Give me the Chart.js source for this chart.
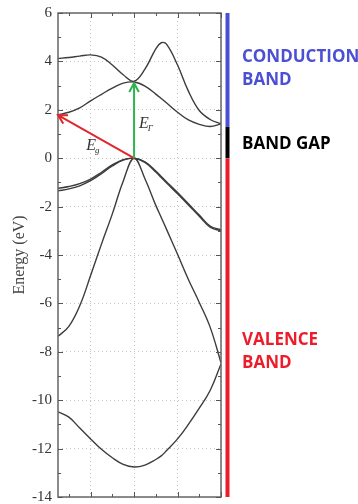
<!DOCTYPE html>
<html lang="en">
<head>
  <meta charset="UTF-8">
  <title>Band structure</title>
  <script src="https://cdn.jsdelivr.net/npm/chart.js"></script>
  <style>
    body { margin: 0; background: #fff; }
    #wrap { width: 358px; height: 504px; }
  </style>
</head>
<body>
  <div id="wrap"><canvas id="bandChart" width="358" height="504"></canvas></div>

  <script>
    // k-path position (Gamma point at 0)
    const kPath = [-3.5, -3, -2.5, -2, -1.5, -1, -0.5, 0, 0.5, 1, 1.25, 1.5, 2, 2.5, 3, 3.5, 4];

    // band energies in eV, one value per kPath point
    const cbUpper = [4.12, 4.16, 4.22, 4.27, 4.18, 3.85, 3.45, 3.18, 3.68, 4.52, 4.77, 4.70, 3.85, 2.77, 1.97, 1.60, 1.42];
    const cbLower = [1.80, 1.90, 2.08, 2.37, 2.64, 2.90, 3.10, 3.15, 2.98, 2.65, 2.47, 2.28, 1.90, 1.58, 1.40, 1.31, 1.42];
    const vbHeavy1 = [-1.25, -1.17, -1.05, -0.86, -0.58, -0.28, -0.06, 0, -0.15, -0.53, -0.76, -0.98, -1.42, -1.88, -2.35, -2.80, -2.96];
    const vbHeavy2 = [-1.35, -1.27, -1.14, -0.93, -0.64, -0.32, -0.08, 0, -0.17, -0.57, -0.80, -1.03, -1.47, -1.93, -2.40, -2.85, -3.00];
    const vbLight = [-7.36, -6.95, -6.10, -4.85, -3.55, -2.30, -0.95, 0, -0.85, -1.95, -2.45, -2.95, -3.97, -5.01, -5.96, -6.98, -8.45];
    const vbBottom = [-10.48, -10.70, -11.15, -11.60, -12.03, -12.38, -12.65, -12.76, -12.68, -12.45, -12.30, -12.08, -11.60, -11.00, -10.33, -9.60, -8.50];
    const bands = [cbUpper, cbLower, vbHeavy1, vbHeavy2, vbLight, vbBottom];

    // transition arrows: [k, E] start and end
    const arrowFrom = [[0, 0], [0, 0]];
    const arrowTo = [[-3.5, 1.78], [0, 3.1]];
    const arrowColors = ['#e3262c', '#2fb34f'];
    const arrowSubs = ['g', 'Γ'];
    const arrowLabelAt = [[-2.2, 0.33], [0.23, 1.24]];

    // energy regions on the right
    const regionNames = [['CONDUCTION', 'BAND'], ['BAND GAP'], ['VALENCE', 'BAND']];
    const regionTop = [6, 1.3, 0];
    const regionBottom = [1.3, 0, -14];
    const regionLabelAt = [3.7, 0.58, -8];
    const regionColors = ['#4a4fd4', '#000000', '#ec1c2a'];

    const datasets = bands.map(b => ({
      data: kPath.map((k, i) => ({ x: k, y: b[i] })),
      borderColor: '#3c3c3c',
      borderWidth: 1.4,
      pointRadius: 0,
      fill: false,
      tension: 0.4
    }));

    const extras = {
      id: 'extras',
      afterDatasetsDraw(chart) {
        const ctx = chart.ctx;
        const a = chart.chartArea;
        const xs = chart.scales.x, ys = chart.scales.y;
        ctx.save();

        // frame
        ctx.strokeStyle = '#666';
        ctx.lineWidth = 1.5;
        ctx.strokeRect(a.left, a.top, a.right - a.left, a.bottom - a.top);

        // inward ticks
        ctx.lineWidth = 1;
        ctx.strokeStyle = '#555';
        ys.ticks.forEach(t => {
          const py = Math.round(ys.getPixelForValue(t.value)) + 0.5;
          const len = t.value % 2 === 0 ? 5 : 3;
          ctx.beginPath();
          ctx.moveTo(a.left, py); ctx.lineTo(a.left + len, py);
          ctx.moveTo(a.right, py); ctx.lineTo(a.right - len, py);
          ctx.stroke();
        });
        xs.ticks.forEach(t => {
          const px = Math.round(xs.getPixelForValue(t.value)) + 0.5;
          const len = t.value % 2 === 0 ? 5 : 3;
          ctx.beginPath();
          ctx.moveTo(px, a.bottom); ctx.lineTo(px, a.bottom - len);
          ctx.moveTo(px, a.top); ctx.lineTo(px, a.top + len);
          ctx.stroke();
        });

        // arrows
        arrowFrom.forEach((f, i) => {
          const x0 = xs.getPixelForValue(f[0]), y0 = ys.getPixelForValue(f[1]);
          const x1 = xs.getPixelForValue(arrowTo[i][0]), y1 = ys.getPixelForValue(arrowTo[i][1]);
          const ang = Math.atan2(y1 - y0, x1 - x0);
          ctx.strokeStyle = arrowColors[i];
          ctx.lineWidth = 2;
          ctx.beginPath();
          ctx.moveTo(x0, y0); ctx.lineTo(x1, y1);
          ctx.moveTo(x1 - 10 * Math.cos(ang - 0.5), y1 - 10 * Math.sin(ang - 0.5));
          ctx.lineTo(x1, y1);
          ctx.lineTo(x1 - 10 * Math.cos(ang + 0.5), y1 - 10 * Math.sin(ang + 0.5));
          ctx.stroke();

          const lx = xs.getPixelForValue(arrowLabelAt[i][0]), ly = ys.getPixelForValue(arrowLabelAt[i][1]);
          ctx.fillStyle = '#333';
          ctx.textAlign = 'left';
          ctx.textBaseline = 'alphabetic';
          ctx.font = 'italic 16px "Liberation Serif"';
          ctx.fillText('E', lx, ly);
          const w = ctx.measureText('E').width;
          ctx.font = 'italic 9px "Liberation Serif"';
          ctx.fillText(arrowSubs[i], lx + w - 1, ly + 3);
        });

        // energy regions
        const bx = a.right + 6.5;
        regionNames.forEach((lines, i) => {
          ctx.strokeStyle = regionColors[i];
          ctx.lineWidth = 4;
          ctx.beginPath();
          ctx.moveTo(bx, ys.getPixelForValue(regionTop[i]));
          ctx.lineTo(bx, ys.getPixelForValue(regionBottom[i]));
          ctx.stroke();

          ctx.fillStyle = regionColors[i];
          ctx.font = 'bold 17px "Open Sans"';
          ctx.textAlign = 'left';
          ctx.textBaseline = 'middle';
          const cy = ys.getPixelForValue(regionLabelAt[i]);
          const lh = 23;
          lines.forEach((s, j) => {
            ctx.fillText(s, a.right + 21, cy + (j - (lines.length - 1) / 2) * lh);
          });
        });
        ctx.restore();
      }
    };

    new Chart(document.getElementById('bandChart'), {
      type: 'line',
      data: { datasets: datasets },
      options: {
        responsive: false,
        animation: false,
        layout: { padding: { top: 13, right: 137, bottom: 7, left: 0 } },
        plugins: { legend: { display: false }, tooltip: { enabled: false } },
        scales: {
          x: {
            type: 'linear',
            min: -3.5,
            max: 4,
            ticks: { display: false, stepSize: 1, includeBounds: false },
            grid: {
              drawTicks: false,
              color: c => (c.tick && c.tick.value % 2 === 0) ? '#c4c4c4' : 'rgba(0,0,0,0)'
            },
            border: { display: false, dash: [1, 3] }
          },
          y: {
            min: -14,
            max: 6,
            ticks: {
              stepSize: 1,
              padding: 6,
              color: '#333',
              font: { family: 'Liberation Serif', size: 15 },
              callback: v => v % 2 === 0 ? String(v) : ''
            },
            grid: {
              drawTicks: false,
              color: c => (c.tick && c.tick.value % 2 === 0) ? '#c4c4c4' : 'rgba(0,0,0,0)'
            },
            border: { display: false, dash: [1, 3] },
            title: {
              display: true,
              text: 'Energy (eV)',
              color: '#444',
              font: { family: 'Liberation Serif', size: 16 },
              padding: { top: 10, bottom: 0 }
            },
            afterFit: s => { s.width = 58; s.paddingTop = 0; s.paddingBottom = 0; }
          }
        }
      },
      plugins: [extras]
    });
  </script>
</body>
</html>
